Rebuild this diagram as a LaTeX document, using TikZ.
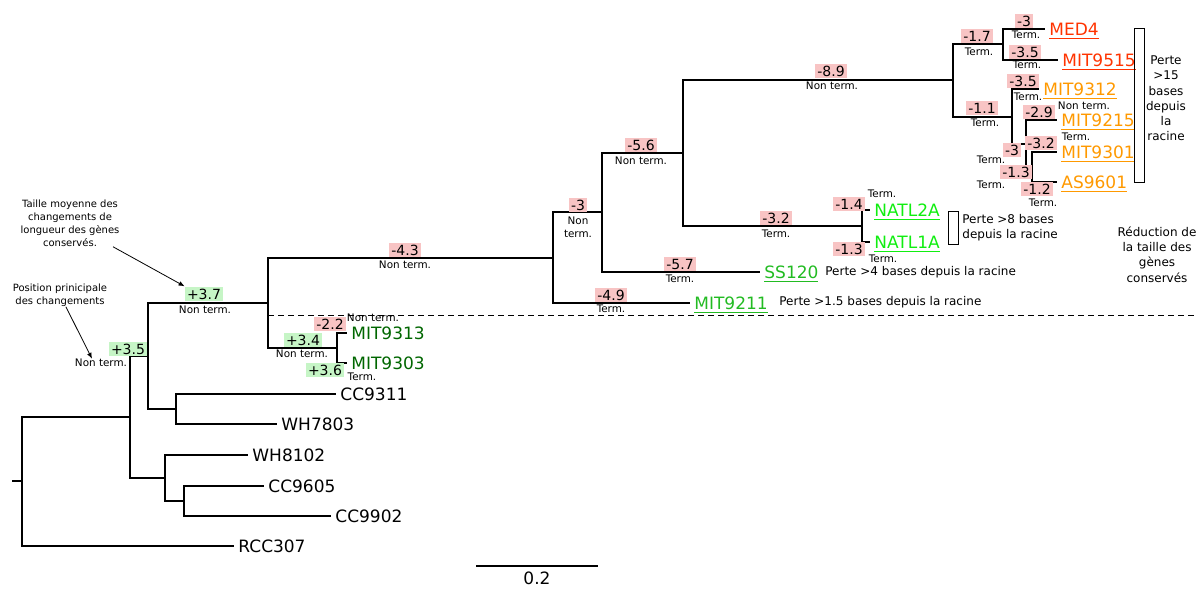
\documentclass[tikz,border=0pt]{standalone}
\usepackage{fontspec}
\setmainfont{DejaVu Sans}
\usepackage{xcolor}
\usepackage{tikz}
\usetikzlibrary{arrows.meta}

\definecolor{lossred}{HTML}{F8C4C4}
\definecolor{gaingreen}{HTML}{C6F5C6}
\definecolor{medred}{HTML}{FF3300}
\definecolor{hlorange}{HTML}{FF9900}
\definecolor{natlgreen}{HTML}{11EE11}
\definecolor{llgreen}{HTML}{22BB22}
\definecolor{dkgreen}{HTML}{006600}
\newcommand{\fsz}[2]{\fontsize{#1}{#2}\selectfont}

\begin{document}
\begin{tikzpicture}[x=0.5pt,y=-0.5pt,>={Latex[length=3pt,width=2.4pt]},
  branch/.style={line width=0.9pt},
  leaf/.style={anchor=base west,inner sep=0pt,xshift=2pt,yshift=-3.1pt,font=\fsz{8.5}{10}},
  val/.style={fill=lossred,inner sep=1pt,font=\fsz{7}{8}},
  gain/.style={val,fill=gaingreen},
  kind/.style={inner sep=0pt,font=\fsz{5.2}{6.4},align=center},
  note/.style={inner sep=0pt,font=\fsz{6}{7.6},align=center},
  leftnote/.style={inner sep=0pt,font=\fsz{5}{6.5},align=center}]
  \useasboundingbox (0,0) rectangle (1197,588);

  % internal nodes
  \coordinate (r) at (22,481);
  \coordinate (a) at (130,417);
  \coordinate (b) at (148,356);
  \coordinate (c) at (165,478);
  \coordinate (d) at (268,303);
  \coordinate (e) at (176,409);
  \coordinate (f) at (184,501);
  \coordinate (g) at (553,258);
  \coordinate (h) at (337,348);
  \coordinate (i) at (602,212);
  \coordinate (j) at (683,153);
  \coordinate (k) at (953,80);
  \coordinate (l) at (862,226);
  \coordinate (m) at (1003,44);
  \coordinate (n) at (1012,117);
  \coordinate (o) at (1026,144);
  \coordinate (p) at (1032,167);

  % leaf ends
  \coordinate (lRCC307) at (234,546);
  \coordinate (lCC9311) at (336,394);
  \coordinate (lWH7803) at (277,424);
  \coordinate (lWH8102) at (248,455);
  \coordinate (lCC9605) at (264,486);
  \coordinate (lCC9902) at (331,516);
  \coordinate (lMIT9313) at (347,333);
  \coordinate (lMIT9303) at (347,363);
  \coordinate (lMIT9211) at (690,303);
  \coordinate (lSS120) at (760,272);
  \coordinate (lNATL2A) at (870,210);
  \coordinate (lNATL1A) at (870,242);
  \coordinate (lMED4) at (1045,29);
  \coordinate (lMIT9515) at (1058,60);
  \coordinate (lMIT9312) at (1039,89);
  \coordinate (lMIT9215) at (1057,120);
  \coordinate (lMIT9301) at (1057,152);
  \coordinate (lAS9601) at (1057,182);

  % branches
  \draw[branch] (12,481) -- (r);
  \foreach \p/\c in {r/a,r/lRCC307,a/b,a/c,b/d,b/e,e/lCC9311,e/lWH7803,
      c/lWH8102,c/f,f/lCC9605,f/lCC9902,d/g,d/h,h/lMIT9313,h/lMIT9303,
      g/i,g/lMIT9211,i/j,i/lSS120,j/k,j/l,l/lNATL2A,l/lNATL1A,
      k/m,k/n,m/lMED4,m/lMIT9515,n/lMIT9312,n/o,o/lMIT9215,o/p,
      p/lMIT9301,p/lAS9601}
    \draw[branch] (\p) |- (\c);

  % leaf labels
  \node[leaf] (nRCC307) at (lRCC307) {RCC307};
  \node[leaf] (nCC9311) at (lCC9311) {CC9311};
  \node[leaf] (nWH7803) at (lWH7803) {WH7803};
  \node[leaf] (nWH8102) at (lWH8102) {WH8102};
  \node[leaf] (nCC9605) at (lCC9605) {CC9605};
  \node[leaf] (nCC9902) at (lCC9902) {CC9902};
  \node[leaf,dkgreen] (nMIT9313) at (lMIT9313) {MIT9313};
  \node[leaf,dkgreen] (nMIT9303) at (lMIT9303) {MIT9303};
  \node[leaf,llgreen] (nMIT9211) at (lMIT9211) {\underline{MIT9211}};
  \node[leaf,llgreen] (nSS120) at (lSS120) {\underline{SS120}};
  \node[leaf,natlgreen] (nNATL2A) at (lNATL2A) {\underline{NATL2A}};
  \node[leaf,natlgreen] (nNATL1A) at (lNATL1A) {\underline{NATL1A}};
  \node[leaf,medred] (nMED4) at (lMED4) {\underline{MED4}};
  \node[leaf,medred] (nMIT9515) at (lMIT9515) {\underline{MIT9515}};
  \node[leaf,hlorange] (nMIT9312) at (lMIT9312) {\underline{MIT9312}};
  \node[leaf,hlorange] (nMIT9215) at (lMIT9215) {\underline{MIT9215}};
  \node[leaf,hlorange] (nMIT9301) at (lMIT9301) {\underline{MIT9301}};
  \node[leaf,hlorange] (nAS9601) at (lAS9601) {\underline{AS9601}};

  % mean length changes
  \node[gain] (v1) at (128,349) {+3.5};
  \node[kind] (k1) at (101,363) {Non term.};
  \node[gain] (v2) at (204,294) {+3.7};
  \node[kind] (k2) at (205,310) {Non term.};
  \node[val] (v3) at (405,250) {-4.3};
  \node[kind] (k3) at (405,265) {Non term.};
  \node[gain] (v4) at (303,340) {+3.4};
  \node[kind] (k4) at (302,354) {Non term.};
  \node[val] (v5) at (330,324) {-2.2};
  \node[kind] (k5) at (373,318) {Non term.};
  \node[gain] (v6) at (325,370) {+3.6};
  \node[kind] (k6) at (362,377) {Term.};
  \node[val] (v7) at (578,205) {-3};
  \node[kind] (k7) at (578,227) {Non\\term.};
  \node[val] (v8) at (611,295) {-4.9};
  \node[kind] (k8) at (611,309) {Term.};
  \node[val] (v9) at (641,145) {-5.6};
  \node[kind] (k9) at (641,161) {Non term.};
  \node[val] (v10) at (680,264) {-5.7};
  \node[kind] (k10) at (680,279) {Term.};
  \node[val] (v11) at (831,71) {-8.9};
  \node[kind] (k11) at (832,86) {Non term.};
  \node[val] (v12) at (776,218) {-3.2};
  \node[kind] (k12) at (776,234) {Term.};
  \node[val] (v13) at (849,204) {-1.4};
  \node[kind] (k13) at (882,194) {Term.};
  \node[val] (v14) at (849,249) {-1.3};
  \node[kind] (k14) at (883,259) {Term.};
  \node[val] (v15) at (977,36) {-1.7};
  \node[kind] (k15) at (979,52) {Term.};
  \node[val] (v16) at (1024,21) {-3};
  \node[kind] (k16) at (1026,35) {Term.};
  \node[val] (v17) at (1025,52) {-3.5};
  \node[kind] (k17) at (1027,65) {Term.};
  \node[val] (v18) at (982,108) {-1.1};
  \node[kind] (k18) at (985,123) {Term.};
  \node[val] (v19) at (1023,81) {-3.5};
  \node[kind] (k19) at (1028,97) {Term.};
  \node[val] (v20) at (1039,112) {-2.9};
  \node[kind] (k20) at (1084,106) {Non term.};
  \node[val] (v21) at (1012,150) {-3};
  \node[kind] (k21) at (991,160) {Term.};
  \node[val] (v22) at (1041,143) {-3.2};
  \node[kind] (k22) at (1076,137) {Term.};
  \node[val] (v23) at (1016,172) {-1.3};
  \node[kind] (k23) at (991,185) {Term.};
  \node[val] (v24) at (1037,189) {-1.2};
  \node[kind] (k24) at (1043,203) {Term.};

  % clade notes
  \draw[dashed,dash pattern=on 3pt off 2pt] (268,315) -- (1197,315);
  \node[note,anchor=west] (loss1) at (779,302) {Perte >1.5 bases depuis la racine};
  \node[note,anchor=west] (loss4) at (825,272) {Perte >4 bases depuis la racine};
  \draw[line width=0.5pt] (948,211) rectangle (958,244);
  \node[note,anchor=west,align=left] (loss8) at (962,228) {Perte >8 bases\\depuis la racine};
  \draw[line width=0.5pt] (1134,29) rectangle (1144,183);
  \node[note] (loss15) at (1166,98.5) {Perte\\>15\\bases\\depuis\\la\\racine};
  \node[note] (shrink) at (1157,254.5) {Réduction de\\la taille des\\gènes\\conservés};

  % legend
  \node[leftnote] (tnote) at (70,223) {Taille moyenne des\\changements de\\longueur des gènes\\conservés.};
  \node[leftnote] (pnote) at (60,295) {Position prinicipale\\des changements};
  \draw[->,line width=0.4pt] (tnote) -- (v2.north west);
  \draw[->,line width=0.4pt] (pnote) -- ([xshift=-4.5pt]k1.north);

  % scale
  \draw[line width=0.8pt] (476,566) coordinate (s0) -- (598,566) coordinate (s1);
  \node[inner sep=0pt,font=\fsz{8.5}{10}] (slabel) at (537,578) {0.2};
\end{tikzpicture}
\end{document}
